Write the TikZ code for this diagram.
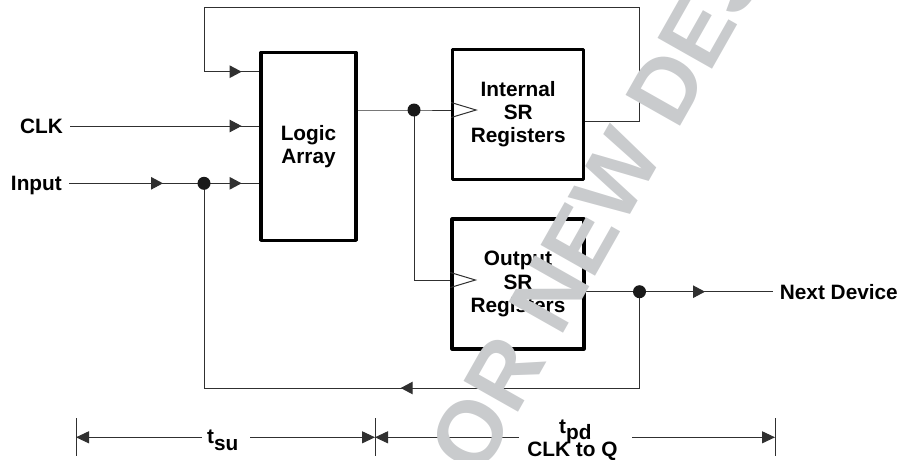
\documentclass[tikz,border=0pt]{standalone}
\usepackage{fontspec}
\setmainfont{Liberation Sans}
\usetikzlibrary{arrows.meta,decorations.markings,calc}
\definecolor{wm}{HTML}{C9CBCD}
\definecolor{ln}{HTML}{303030}
\newcommand\lbl{\bfseries\fontsize{20.8}{23.3}\selectfont}
\tikzset{
  box/.style={draw=black, line width=3.2pt, line join=round, inner sep=0pt, align=center, font=\lbl},
  wire/.style={draw=ln, line width=1pt},
  tipat/.style={postaction={decorate}, decoration={markings, mark=at position #1 with {\arrow{Triangle[length=12pt,width=12.5pt]}}}},
  dot/.style={circle, fill=black!90, inner sep=0pt, minimum size=13pt},
  lab/.style={font=\lbl, inner xsep=7pt, inner ysep=0pt, text height=14.9pt, text depth=0pt},
  dimtip/.style={-{Triangle[length=13pt,width=12pt]}},
  tick/.style={draw=ln, line width=1pt},
  clockmark/.style={draw=ln, line width=1pt},
}
\begin{document}
\begin{tikzpicture}[x=1pt, y=-1pt]
\useasboundingbox (0,0) rectangle (907,459);

% blocks
\node[box, minimum width=95pt, minimum height=188pt] (logic) at (308.5,146.3) {Logic\\Array};
\node[box, minimum width=131pt, minimum height=130pt] (int) at (518.2,114.2) {Internal\\SR\\Registers};
\node[box, minimum width=132pt, minimum height=130pt] (out) at (518,284) {Output\\SR\\Registers};

% labels
\node[lab, anchor=east] (clk) at (70,126) {CLK};
\node[lab, anchor=east] (inp) at (69,183.3) {Input};
\node[lab, anchor=west] (nd) at (772.7,291.7) {Next Device};

% junction dots (positions)
\coordinate (j1) at (414,110);
\coordinate (j2) at (204,183.3);
\coordinate (j3) at (639.5,291.7);

% logic array -> internal SR
\draw[wire] (logic.east |- j1) -- (j1) -- (int.west |- j1);
\coordinate (ic) at (int.west |- j1);
\draw[clockmark] ($(ic)+(0,-7.5)$) -- ($(ic)+(25,0)$) -- ($(ic)+(0,7.5)$);

% branch -> output SR
\coordinate (oc) at (out.west |- 0,280);
\draw[wire] (j1) |- (oc);
\draw[clockmark] ($(oc)+(0,-7.5)$) -- ($(oc)+(25,0)$) -- ($(oc)+(0,7.5)$);

% internal feedback
\coordinate (fbo) at (int.east |- 0,121.7);
\coordinate (fbr) at (639.5,7);
\coordinate (fbl) at (204,7);
\coordinate (fbi) at (logic.west |- 0,71.7);
\draw[wire, tipat=-17.8pt] (fbo) -| (fbr) -- (fbl) |- (fbi);

% CLK
\draw[wire, tipat=-17.8pt] (clk.east) -- (logic.west |- clk.east);

% Input
\draw[wire, tipat=-41pt] (inp.east) -- (j2);
\draw[wire, tipat=-17.8pt] (j2) -- (logic.west |- j2);

% output
\draw[wire] (out.east |- j3) -- (j3);
\draw[wire, tipat=-67.7pt] (j3) -- (nd.west);

% return path
\coordinate (rb) at (j3 |- 0,388);
\coordinate (lb) at (j2 |- 0,388);
\draw[wire, tipat=335.1pt] (j3) -- (rb) -- (lb) -- (j2);

% dots
\node[dot] (d1) at (j1) {};
\node[dot] (d2) at (j2) {};
\node[dot] (d3) at (j3) {};

% timing dimensions
\coordinate (k1) at (76,437.3);
\coordinate (k2) at (375,437.3);
\coordinate (k3) at (775,437.3);
\foreach \k in {k1,k2,k3} \draw[tick] ($(\k)+(0,-19.3)$) -- ($(\k)+(0,18.7)$);
\coordinate (g1) at (201.7,437.3);
\coordinate (g2) at (250,437.3);
\coordinate (g3) at (519,437.3);
\coordinate (g4) at (632,437.3);
\draw[wire, dimtip] (g1) -- (k1);
\draw[wire, dimtip] (g2) -- (k2);
\draw[wire, dimtip] (g3) -- (k2);
\draw[wire, dimtip] (g4) -- (k3);
\node[anchor=base west, font=\lbl, inner sep=0pt] (tsu) at (207,443) {t\raisebox{-7pt}{su}};
\node[anchor=base west, font=\lbl, inner sep=0pt] (tpd) at (559,433) {t\raisebox{-6pt}{pd}};
\node[anchor=base, font=\lbl, inner sep=0pt] (ctq) at (572.5,456.7) {CLK to Q};

% watermark
\begin{scope}
\clip (0,0) rectangle (907,459);
\node[rotate=60.5, anchor=base west, inner sep=0pt, text=wm, font=\bfseries\fontsize{91}{95}\selectfont] (wmk) at (480.5,479.3) {OR NEW DESIGNS};
\end{scope}
\end{tikzpicture}
\end{document}
